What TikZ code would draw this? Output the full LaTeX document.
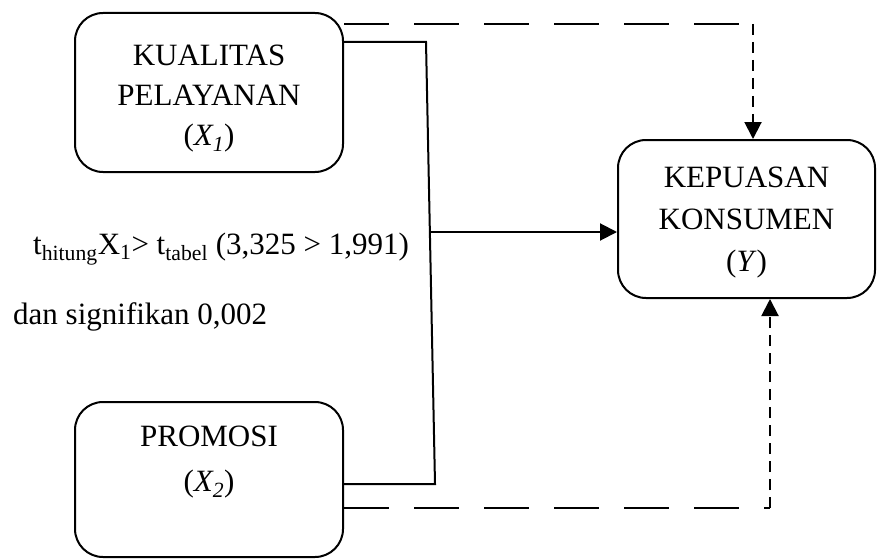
\documentclass[tikz,border=0pt]{standalone}
\usepackage{fontspec}
\setmainfont{Liberation Serif}
\usetikzlibrary{arrows.meta}
\begin{document}
\begin{tikzpicture}[x=1pt,y=-1pt,
  box/.style={draw,line width=2pt,rounded corners=28pt,inner sep=0pt},
  txt/.style={align=center,inner sep=0pt,font=\fontsize{31}{41}\selectfont},
  conn/.style={line width=2pt},
  longdash/.style={conn,dash pattern=on 45pt off 25pt},
  shortdash/.style={conn,dash pattern=on 11pt off 7pt},
  tip/.style={-{Triangle[width=17pt,length=17pt]}}]
\useasboundingbox (0,0) rectangle (877,559);
% boxes
\node[box,minimum width=268pt,minimum height=159pt] (x1) at (209,92.5) {};
\node[box,minimum width=268pt,minimum height=155pt] (x2) at (209,479.5) {};
\node[box,minimum width=257pt,minimum height=158pt] (y) at (746.5,219) {};
% texts
\node[txt,anchor=north,font=\fontsize{31}{40}\selectfont] (x1t) at (209,45) {KUALITAS\\PELAYANAN\\(\textit{X\textsubscript{1}})};
\node[txt,anchor=north,font=\fontsize{31}{45}\selectfont] (x2t) at (209,426) {PROMOSI\\(\textit{X\textsubscript{2}})};
\node[txt,anchor=north,font=\fontsize{31}{42}\selectfont] (yt) at (746.5,167) {KEPUASAN\\KONSUMEN\\(\textit{Y})};
\node[txt,anchor=base west] (l1) at (33,254) {t\textsubscript{hitung}X\textsubscript{1}> t\textsubscript{tabel} (3,325 > 1,991)};
\node[txt,anchor=base west] (l2) at (13,324) {dan signifikan 0,002};
% solid connector
\coordinate (a) at (426,42);
\coordinate (b) at (435,484);
\coordinate (m) at (430.5,232);
\draw[conn] (x1.east |- a) -- (a) -- (b) -- (x2.east |- b);
\draw[conn,tip] (m) -- (y.west |- m);
% dashed top
\coordinate (t1) at (753,24);
\draw[longdash] (x1.east |- t1) -- (t1);
\draw[shortdash,tip] (t1) -- (t1 |- y.north);
% dashed bottom
\coordinate (b1) at (770,508);
\draw[longdash] (x2.east |- b1) -- (b1);
\draw[shortdash,tip] (b1) -- (b1 |- y.south);
\end{tikzpicture}
\end{document}
